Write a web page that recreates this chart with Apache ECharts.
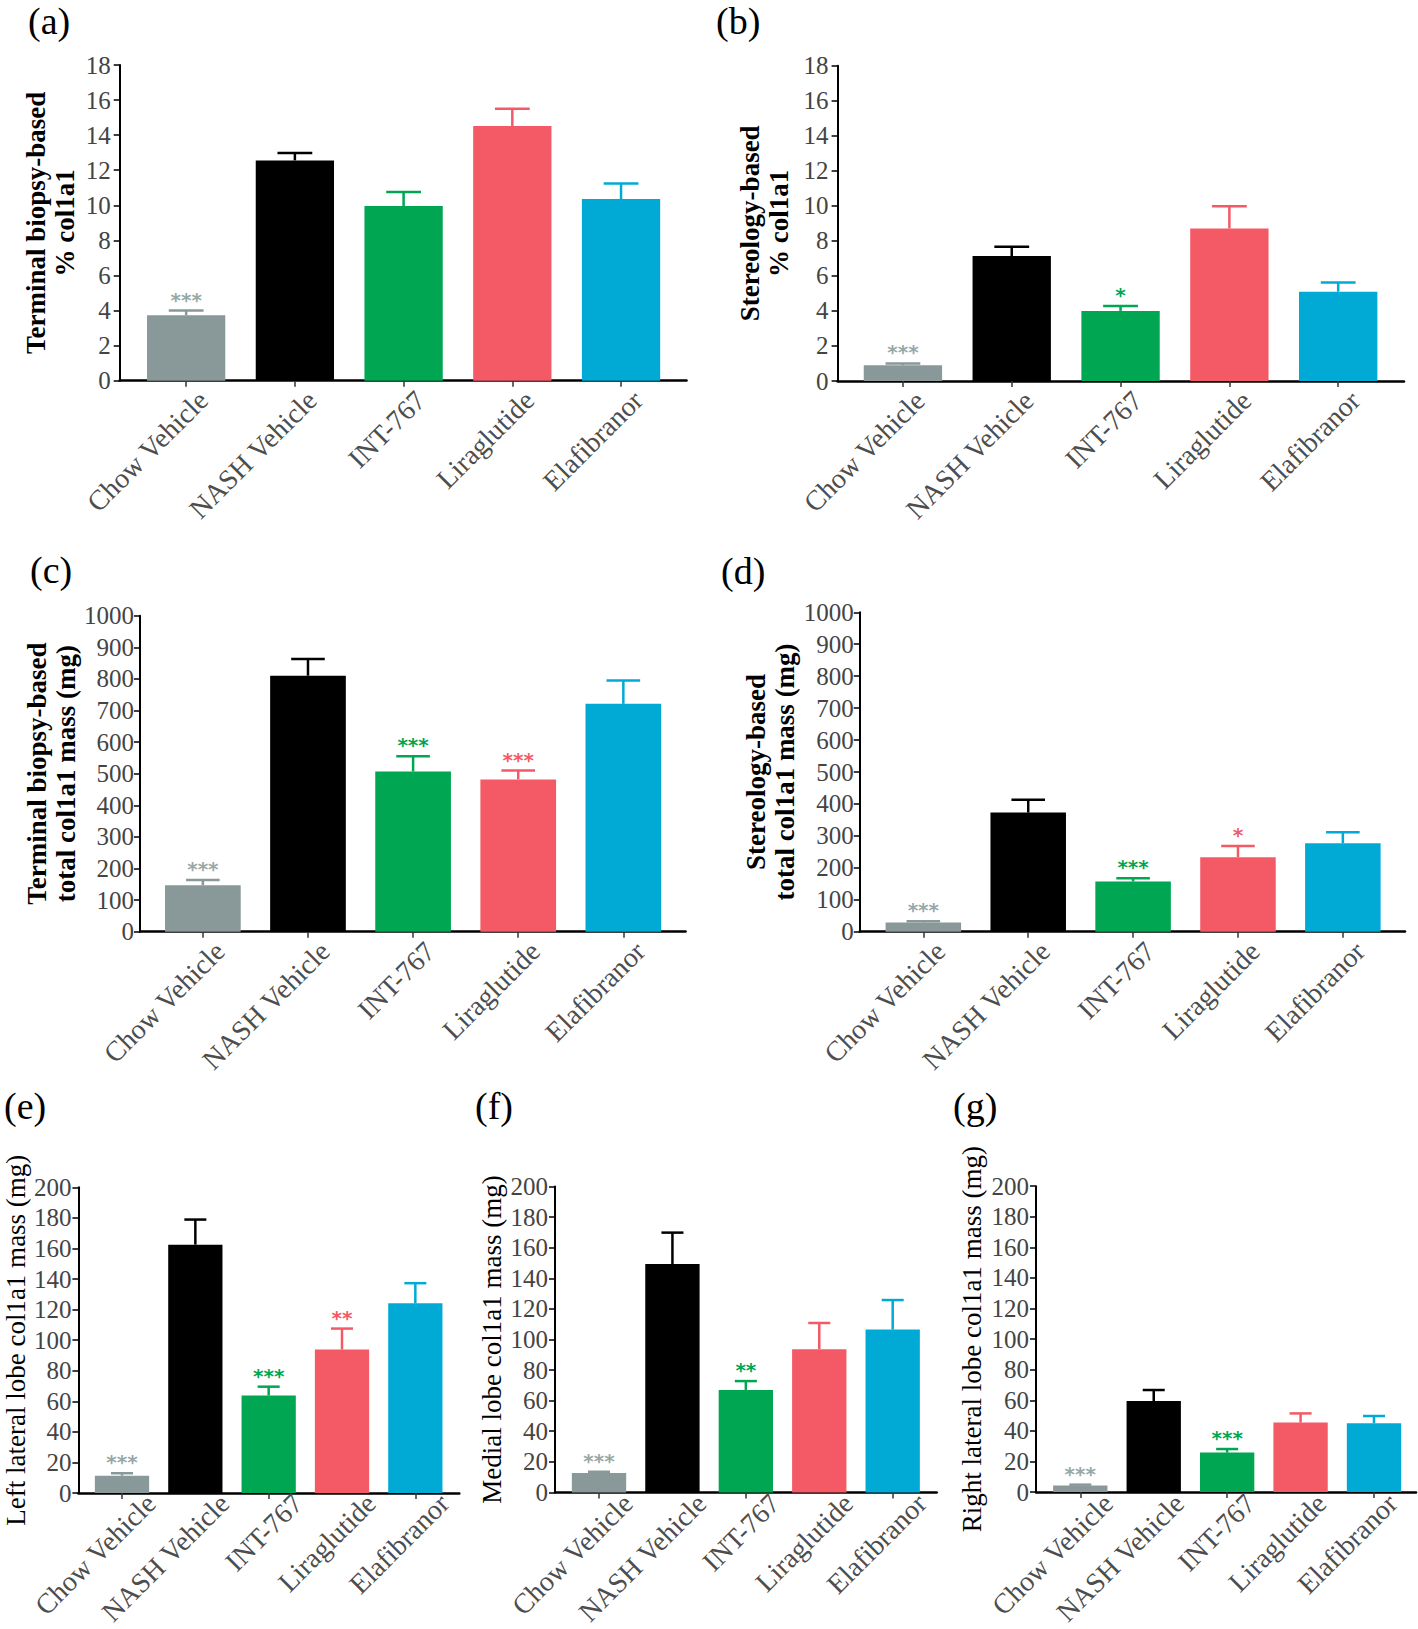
<!DOCTYPE html>
<html><head><meta charset="utf-8">
<script src="https://cdn.jsdelivr.net/npm/echarts@6/dist/echarts.min.js"></script>
<style>html,body{margin:0;padding:0;background:#fff}#c{width:1418px;height:1629px}</style>
</head><body><div id="c"></div>
<script>
// ---------- data ----------
const categories = ['Chow Vehicle', 'NASH Vehicle', 'INT-767', 'Liraglutide', 'Elafibranor'];
const barColors  = ['#899999', '#000000', '#00a651', '#f45a66', '#00aad4'];
const starColors = ['#97a8a8', '#000000', '#00a651', '#f15a67', '#00aad4'];

const aMean = [3.73, 12.56, 9.96, 14.52, 10.36];
const aErr  = [4.0, 12.98, 10.76, 15.51, 11.25];
const aSig  = ['***', '', '', '', ''];

const bMean = [0.9, 7.13, 4.0, 8.71, 5.10];
const bErr  = [1.0, 7.66, 4.28, 9.98, 5.63];
const bSig  = ['***', '', '*', '', ''];

const cMean = [147, 810, 507, 482, 721];
const cErr  = [164, 863, 555, 510, 795];
const cSig  = ['***', '', '***', '***', ''];

const dMean = [29, 373, 157, 233, 277];
const dErr  = [33, 413, 167, 268, 311];
const dSig  = ['***', '', '***', '*', ''];

const eMean = [11.4, 162.5, 63.8, 93.9, 124.1];
const eErr  = [13.0, 178.9, 69.6, 107.6, 137.3];
const eSig  = ['***', '', '***', '**', ''];

const fMean = [12.7, 149.4, 67.0, 93.7, 106.5];
const fErr  = [13.5, 169.9, 72.8, 110.8, 125.8];
const fSig  = ['***', '', '**', '', ''];

const gMean = [4.3, 59.5, 25.8, 45.4, 45.0];
const gErr  = [4.8, 66.7, 28.1, 51.4, 49.7];
const gSig  = ['***', '', '***', '', ''];

const yMaxPct = 18, yStepPct = 2;
const yMaxTotal = 1000, yStepTotal = 100;
const yMaxLobe = 200, yStepLobe = 20;

const yNameA = 'Terminal biopsy-based\n% col1a1';
const yNameB = 'Stereology-based\n% col1a1';
const yNameC = 'Terminal biopsy-based\ntotal col1a1 mass (mg)';
const yNameD = 'Stereology-based\ntotal col1a1 mass (mg)';
const yNameE = 'Left lateral lobe col1a1 mass (mg)';
const yNameF = 'Medial lobe col1a1 mass (mg)';
const yNameG = 'Right lateral lobe col1a1 mass (mg)';

// ---------- layout ----------
const panels = [
  {tag:'(a)', tx:28,  ty:2,    mean:aMean, err:aErr, sig:aSig, max:yMaxPct, step:yStepPct, name:yNameA, bold:true, gap:40,
   L:119.7, R:686.5, T:65,    B:380.7,  iL:131.8, iR:675.4, lblMargin:9, barW:'72%', cap:0.16, dx:7},
  {tag:'(b)', tx:716, ty:2,    mean:bMean, err:bErr, sig:bSig, max:yMaxPct, step:yStepPct, name:yNameB, bold:true, gap:44,
   L:837.6, R:1404,  T:65.7,  B:381,    iL:848.5, iR:1392.6, lblMargin:9, barW:'72%', cap:0.16, dx:7},
  {tag:'(c)', tx:30,  ty:551,  mean:cMean, err:cErr, sig:cSig, max:yMaxTotal, step:yStepTotal, name:yNameC, bold:true, gap:60,
   L:140,   R:685.6, T:615.7, B:931.7,  iL:150.3, iR:675.9, lblMargin:6, barW:'72%', cap:0.16, dx:7},
  {tag:'(d)', tx:721, ty:552,  mean:dMean, err:dErr, sig:dSig, max:yMaxTotal, step:yStepTotal, name:yNameD, bold:true, gap:57,
   L:859.8, R:1405,  T:612.3, B:931.7,  iL:870.9, iR:1395.3, lblMargin:6, barW:'72%', cap:0.16, dx:7},
  {tag:'(e)', tx:4,   ty:1087, mean:eMean, err:eErr, sig:eSig, max:yMaxLobe, step:yStepLobe, name:yNameE, bold:false, gap:47,
   L:77.3,  R:459.3, T:1187.3, B:1493.1, iL:85.35, iR:452,   lblMargin:7, barW:'74%', cap:0.15, dx:19},
  {tag:'(f)', tx:475, ty:1087, mean:fMean, err:fErr, sig:fSig, max:yMaxLobe, step:yStepLobe, name:yNameF, bold:false, gap:48,
   L:555,   R:936.7, T:1186.6, B:1492.4, iL:562.3, iR:929.4, lblMargin:7, barW:'74%', cap:0.15, dx:19},
  {tag:'(g)', tx:953, ty:1087, mean:gMean, err:gErr, sig:gSig, max:yMaxLobe, step:yStepLobe, name:yNameG, bold:false, gap:50,
   L:1036,  R:1416,  T:1186.2, B:1492,   iL:1043.6, iR:1410.7, lblMargin:7, barW:'74%', cap:0.15, dx:19}
];

const SERIF = '"Liberation Serif", "Times New Roman", serif';

function errRender(capFrac) {
  return function (params, api) {
    const idx = api.value(0);
    const base = api.coord([idx, api.value(1)]);
    const top = api.coord([idx, api.value(2)]);
    const hw = api.size([1, 0])[0] * capFrac;
    const st = {stroke: barColors[idx], lineWidth: 2.5};
    return {type: 'group', children: [
      {type: 'line', shape: {x1: base[0], y1: base[1], x2: top[0], y2: top[1]}, style: st},
      {type: 'line', shape: {x1: top[0] - hw, y1: top[1], x2: top[0] + hw, y2: top[1]}, style: st}
    ]};
  };
}
function starRender(sig) {
  return function (params, api) {
    const idx = api.value(0);
    const p = api.coord([idx, api.value(1)]);
    return {type: 'text', x: p[0], y: p[1] - 1, style: {
      text: sig[idx], fill: starColors[idx], fontSize: 20, fontWeight: 'bold',
      fontFamily: '"DejaVu Sans", sans-serif', align: 'center', verticalAlign: 'bottom'}};
  };
}

const option = {backgroundColor: '#fff', animation: false, title: [], grid: [], xAxis: [], yAxis: [], series: []};

panels.forEach((p, i) => {
  const go = 3 * i, gi = 3 * i + 1, gl = 3 * i + 2;
  option.title.push({text: p.tag, left: p.tx, top: p.ty, padding: 0,
    textStyle: {fontFamily: SERIF, fontSize: 38, fontWeight: 'normal', color: '#000'}});
  option.grid.push({left: p.L, top: p.T, width: p.R - p.L, height: p.B - p.T});
  option.grid.push({left: p.iL, top: p.T, width: p.iR - p.iL, height: p.B - p.T});
  option.grid.push({left: p.iL + p.dx, top: p.T, width: p.iR - p.iL, height: p.B - p.T});
  // outer axes: y axis + x axis line
  option.xAxis.push({gridIndex: go, type: 'value', min: 0, max: 1,
    axisLine: {show: true, onZero: false, lineStyle: {color: '#000', width: 2.5}},
    axisTick: {show: false}, axisLabel: {show: false}, splitLine: {show: false}});
  option.yAxis.push({gridIndex: go, type: 'value', min: 0, max: p.max, interval: p.step,
    axisLine: {show: true, lineStyle: {color: '#000', width: 2}},
    axisTick: {show: true, length: 6, lineStyle: {color: '#000', width: 1.5}},
    axisLabel: {margin: p.lblMargin, fontSize: 25, color: '#444', fontFamily: SERIF,
      formatter: v => String(v)},
    splitLine: {show: false},
    name: p.name, nameLocation: 'middle', nameGap: p.gap, nameRotate: 90,
    nameTextStyle: {fontFamily: SERIF, fontSize: 27, fontWeight: p.bold ? 'bold' : 'normal',
      color: '#000', lineHeight: 29}});
  // inner axes: bars + ticks
  option.xAxis.push({gridIndex: gi, type: 'category', data: categories,
    axisLine: {show: false}, splitLine: {show: false},
    axisTick: {show: true, alignWithLabel: true, length: 6, lineStyle: {color: '#333', width: 1.5}},
    axisLabel: {show: false}});
  option.yAxis.push({gridIndex: gi, type: 'value', min: 0, max: p.max, show: false});
  // label axes
  option.xAxis.push({gridIndex: gl, type: 'category', data: categories,
    axisLine: {show: false}, splitLine: {show: false}, axisTick: {show: false},
    axisLabel: {interval: 0, rotate: 45, align: 'right', verticalAlign: 'top', margin: 5,
      fontSize: 28, color: '#4d4d4d', fontFamily: SERIF}});
  option.yAxis.push({gridIndex: gl, type: 'value', min: 0, max: p.max, show: false});

  option.series.push({type: 'bar', xAxisIndex: gi, yAxisIndex: gi, barWidth: p.barW, z: 2,
    data: p.mean.map((v, j) => ({value: v, itemStyle: {color: barColors[j]}}))});
  option.series.push({type: 'custom', xAxisIndex: gi, yAxisIndex: gi, z: 3,
    renderItem: errRender(p.cap), encode: {x: 0, y: [1, 2]},
    data: p.mean.map((v, j) => [j, v, p.err[j]])});
  option.series.push({type: 'custom', xAxisIndex: gi, yAxisIndex: gi, z: 4,
    renderItem: starRender(p.sig), encode: {x: 0, y: 1},
    data: p.err.map((v, j) => [j, v]).filter(d => p.sig[d[0]])});
});

const chart = echarts.init(document.getElementById('c'), null, {renderer: 'svg'});
chart.setOption(option);
</script>
</body></html>
